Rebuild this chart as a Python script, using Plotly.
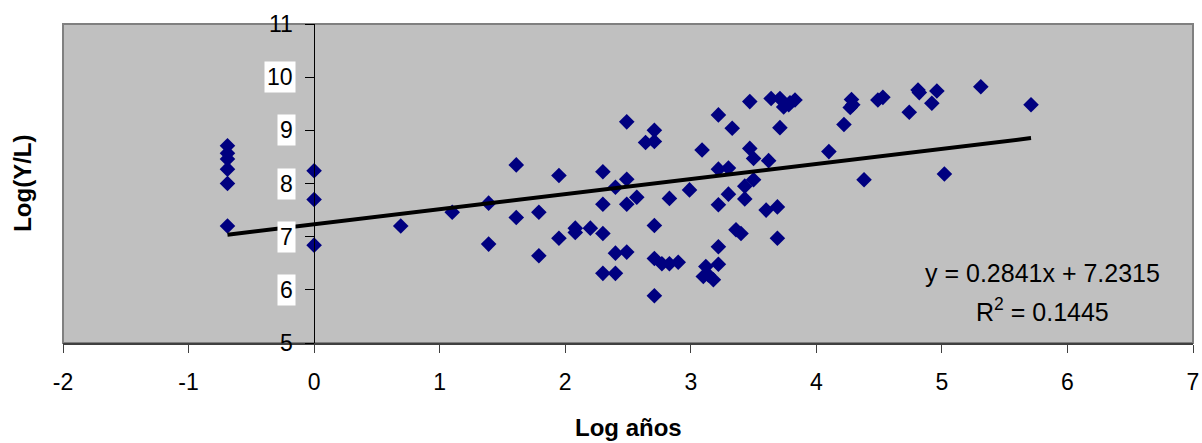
import plotly.graph_objects as go

# Data
log_anos = [-0.69, -0.69, -0.69, -0.69, -0.69, -0.69, 0, 0, 0, 0.69, 1.10, 1.39, 1.39,
            1.61, 1.61, 1.79, 1.79, 1.95, 1.95, 2.08, 2.08, 2.20, 2.30, 2.30, 2.30, 2.30,
            2.40, 2.40, 2.40, 2.49, 2.49, 2.49, 2.49, 2.57, 2.64, 2.71, 2.71, 2.71, 2.71,
            2.71, 2.77, 2.83, 2.83, 2.90, 2.99, 3.09, 3.10, 3.12, 3.14, 3.18, 3.22, 3.22,
            3.22, 3.22, 3.22, 3.30, 3.30, 3.33, 3.36, 3.40, 3.43, 3.43, 3.47, 3.47, 3.50,
            3.50, 3.60, 3.62, 3.64, 3.69, 3.69, 3.71, 3.71, 3.74, 3.78, 3.79, 3.83, 4.10,
            4.22, 4.28, 4.29, 4.27, 4.38, 4.49, 4.53, 4.74, 4.81, 4.82, 4.92, 4.96, 5.02,
            5.31, 5.71]
log_yl = [8.71, 8.57, 8.46, 8.27, 8.00, 7.20, 8.24, 7.70, 6.84, 7.20, 7.46, 7.63, 6.86,
          8.35, 7.36, 7.46, 6.64, 8.15, 6.97, 7.16, 7.08, 7.16, 8.22, 7.61, 7.06, 6.31,
          7.93, 6.69, 6.31, 9.16, 8.08, 7.61, 6.71, 7.74, 8.77, 9.00, 8.79, 7.21, 6.59,
          5.89, 6.49, 6.49, 7.72, 6.52, 7.88, 8.63, 6.25, 6.44, 6.28, 6.19, 9.29, 8.27,
          7.60, 6.81, 6.48, 8.29, 7.80, 9.04, 7.13, 7.06, 7.95, 7.71, 9.54, 8.66, 8.47,
          8.07, 7.50, 8.43, 9.60, 7.56, 6.97, 9.60, 9.05, 9.44, 9.48, 9.52, 9.57, 8.60,
          9.11, 9.58, 9.48, 9.43, 8.07, 9.57, 9.62, 9.34, 9.76, 9.71, 9.51, 9.74, 8.18,
          9.82, 9.48]

trend_slope = 0.2841
trend_intercept = 7.2315
r_squared = 0.1445

x_ticks = [-2, -1, 0, 1, 2, 3, 4, 5, 6, 7]
y_ticks = [5, 6, 7, 8, 9, 10, 11]
y_ticks_boxed = [6, 7, 8, 9, 10]

FONT = "Liberation Sans, Arial, sans-serif"

x_min, x_max = min(log_anos), max(log_anos)
trend_x = [x_min, x_max]
trend_y = [trend_slope * v + trend_intercept for v in trend_x]

fig = go.Figure()
fig.add_trace(go.Scatter(
    x=log_anos, y=log_yl, mode="markers",
    marker=dict(symbol="diamond", size=12, color="#000080", line=dict(width=0)),
    showlegend=False, hoverinfo="x+y"))
fig.add_trace(go.Scatter(
    x=trend_x, y=trend_y, mode="lines",
    line=dict(color="black", width=4), showlegend=False, hoverinfo="skip"))

annotations = []
for v in y_ticks:
    annotations.append(dict(
        x=0, y=v, xref="x", yref="y", text=str(v), showarrow=False,
        xanchor="right", yanchor="middle", xshift=-18,
        font=dict(family=FONT, size=23, color="black"),
        bgcolor="white" if v in y_ticks_boxed else "rgba(0,0,0,0)",
        borderpad=2))

annotations += [
    dict(x=-0.036, y=0.5, xref="paper", yref="paper", text="<b>Log(Y/L)</b>",
         textangle=-90, showarrow=False, xanchor="center", yanchor="middle",
         font=dict(family=FONT, size=24, color="black")),
    dict(x=0.5, y=-0.266, xref="paper", yref="paper", text="<b>Log años</b>",
         showarrow=False, xanchor="center", yanchor="middle",
         font=dict(family=FONT, size=24, color="black")),
    dict(x=0.867, y=0.219, xref="paper", yref="paper",
         text=f"y = {trend_slope}x + {trend_intercept}",
         showarrow=False, xanchor="center", yanchor="middle",
         font=dict(family=FONT, size=25, color="black")),
    dict(x=0.867, y=0.103, xref="paper", yref="paper",
         text=f"R<sup>2</sup> = {r_squared}",
         showarrow=False, xanchor="center", yanchor="middle",
         font=dict(family=FONT, size=25, color="black")),
]

fig.update_layout(
    width=1202, height=443,
    margin=dict(l=63, r=9, t=24, b=100, autoexpand=False),
    paper_bgcolor="white", plot_bgcolor="#C0C0C0",
    font=dict(family=FONT, size=23, color="black"),
    xaxis=dict(range=[-2, 7], tickvals=x_ticks, ticktext=[str(t) for t in x_ticks],
               showgrid=False, zeroline=False, showline=True, linecolor="#404040",
               linewidth=2, ticks="outside", ticklen=8, tickcolor="#404040",
               tickfont=dict(family=FONT, size=23, color="black"),
               ticklabelstandoff=9, automargin=False),
    yaxis=dict(range=[5, 11], tickvals=y_ticks, showticklabels=False,
               anchor="free", position=2 / 9, automargin=False,
               showgrid=False, zeroline=False, showline=True, linecolor="black",
               linewidth=1, ticks="outside", ticklen=9, tickcolor="black"),
    shapes=[dict(type="rect", xref="paper", yref="paper", x0=0, x1=1, y0=0, y1=1,
                 line=dict(color="#808080", width=2), layer="below")],
    annotations=annotations,
)

fig.write_html("out.html")
